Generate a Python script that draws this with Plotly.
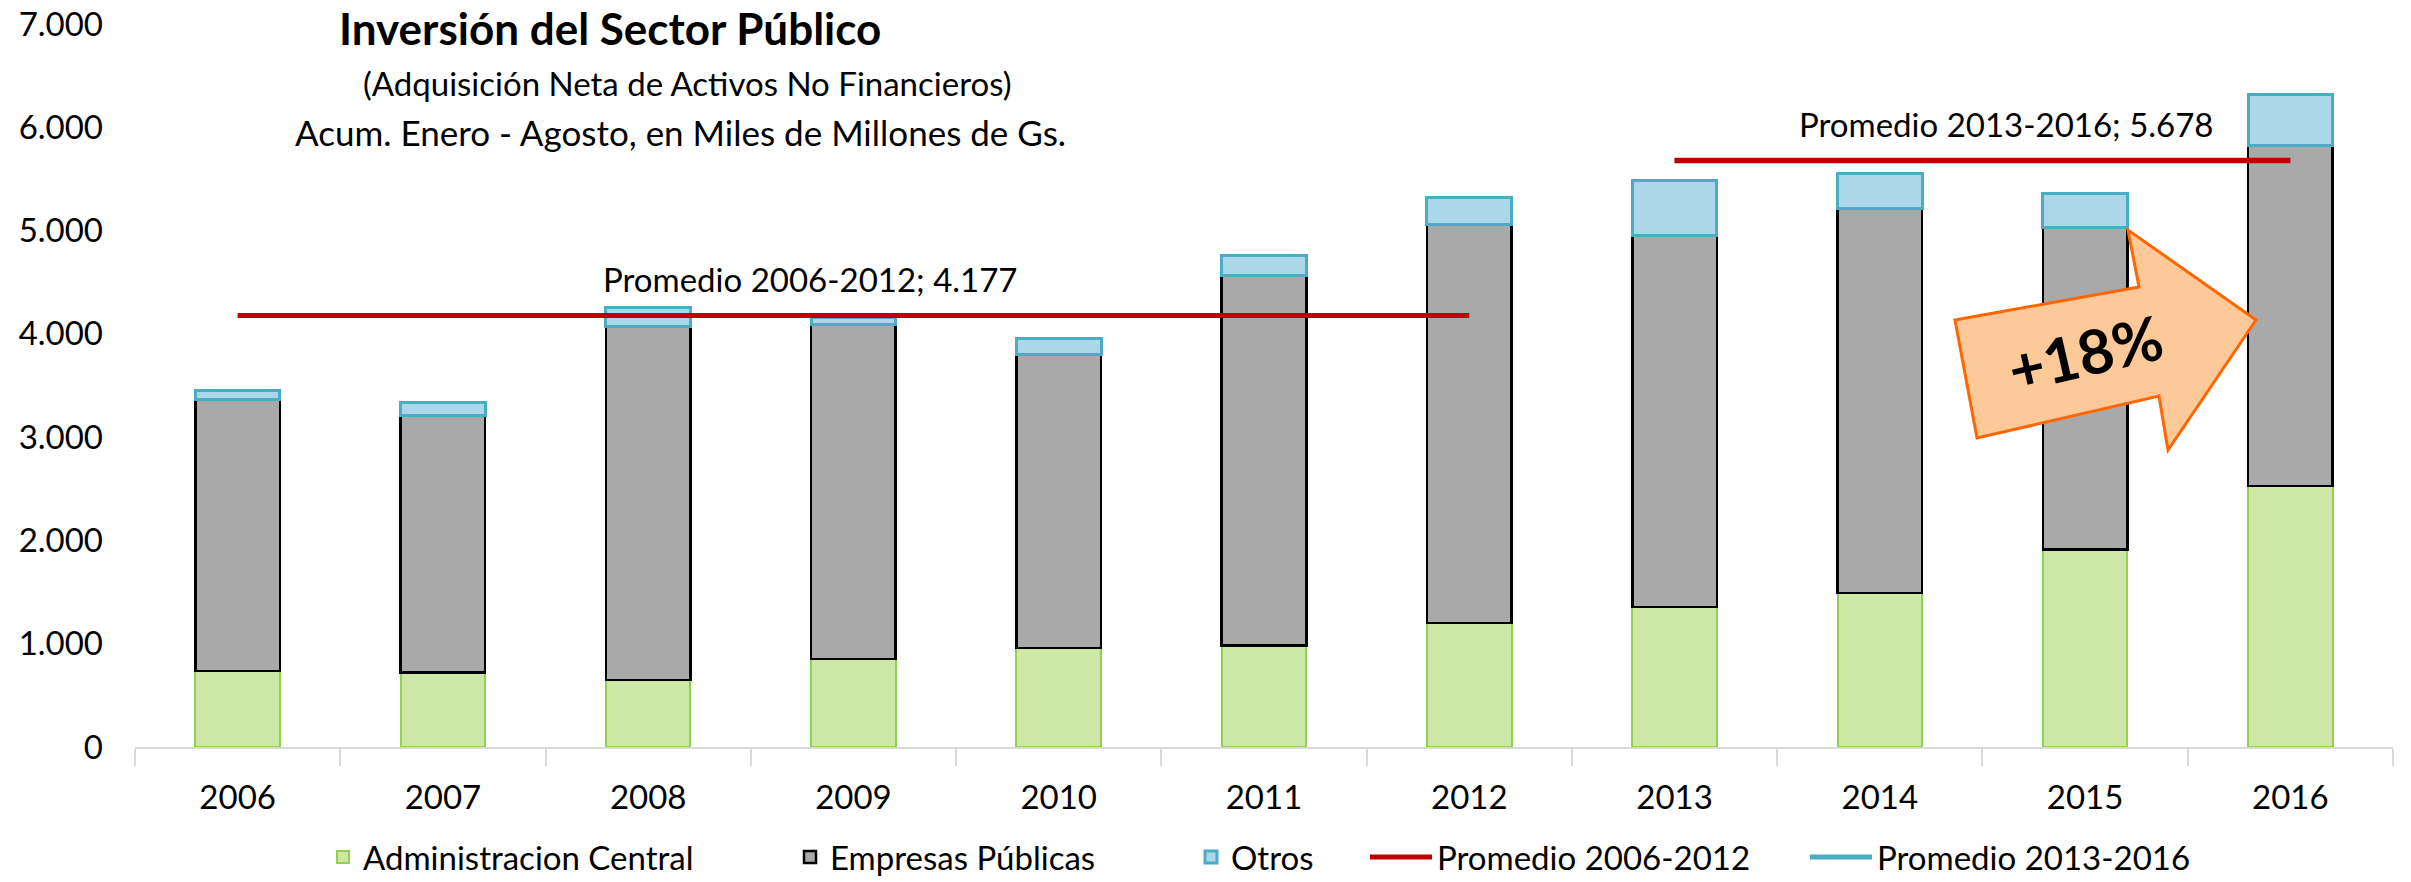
import plotly.graph_objects as go

# ---------------- data ----------------
years = ["2006", "2007", "2008", "2009", "2010", "2011", "2012", "2013", "2014", "2015", "2016"]
adm_central = [737, 721, 648, 854, 959, 981, 1200, 1356, 1489, 1913, 2526]
empresas_publicas = [2627, 2490, 3423, 3233, 2841, 3584, 3861, 3601, 3728, 3119, 3301]
otros = [92, 122, 181, 73, 158, 193, 263, 526, 334, 331, 487]
prom_2006_2012 = [4177, 4177, 4177, 4177, 4177, 4177, 4177, None, None, None, None]
prom_2013_2016 = [None, None, None, None, None, None, None, 5678, 5678, 5678, 5678]
y_ticks = [0, 1000, 2000, 3000, 4000, 5000, 6000, 7000]

# ---------------- geometry helpers (page pixels -> paper / container) ----------------
W, H = 2411, 882
PL, PR, PT, PB = 135, 2393, 24, 747  # plot area in pixels


def px_x(x):
    return (x - PL) / (PR - PL)


def px_y(y):
    return (PB - y) / (PB - PT)


def cx(x):
    return x / W


def cy(y):
    return 1 - y / H


FONT = "Lato"
FS = 33

fig = go.Figure()

fig.add_trace(go.Bar(
    x=years, y=adm_central, name="Administracion Central",
    marker=dict(color="#cde8a6", line=dict(color="#92d050", width=2)),
    legend="legend",
))
fig.add_trace(go.Bar(
    x=years, y=empresas_publicas, name="Empresas Públicas",
    marker=dict(color="#a9a9a9", line=dict(color="#000000", width=2.5)),
    legend="legend2",
))
fig.add_trace(go.Bar(
    x=years, y=otros, name="Otros",
    marker=dict(color="#acd7e8", line=dict(color="#4bacc6", width=3)),
    legend="legend3",
))
fig.add_trace(go.Scatter(
    x=years, y=prom_2006_2012, name="Promedio 2006-2012", mode="lines",
    line=dict(color="#c00000", width=5), legend="legend4",
))
# legend entry (blue) for second average, covered on chart by the red line drawn on top
fig.add_trace(go.Scatter(
    x=years, y=prom_2013_2016, name="Promedio 2013-2016", mode="lines",
    line=dict(color="#4bacc6", width=5), legend="legend5",
))
fig.add_trace(go.Scatter(
    x=years, y=prom_2013_2016, name="Promedio 2013-2016", mode="lines",
    line=dict(color="#c00000", width=5.5), showlegend=False,
))


def fmt(v):
    return f"{v:,}".replace(",", ".")


# ---------------- annotations ----------------
ann = []
ann.append(dict(text="<b>Inversión del Sector Público</b>", x=px_x(610), y=px_y(28),
                xref="paper", yref="paper", showarrow=False, xanchor="center", yanchor="middle",
                height=46, valign="middle",
                font=dict(family=FONT, size=44, color="#000")))
ann.append(dict(text="(Adquisición Neta de Activos No Financieros)", x=px_x(687), y=px_y(83),
                xref="paper", yref="paper", showarrow=False, xanchor="center", yanchor="middle",
                font=dict(family=FONT, size=33, color="#000")))
ann.append(dict(text="Acum. Enero - Agosto, en Miles de Millones de Gs.", x=px_x(680), y=px_y(132),
                xref="paper", yref="paper", showarrow=False, xanchor="center", yanchor="middle",
                font=dict(family=FONT, size=35, color="#000")))
# data labels of the average lines (x given as category index)
i1, i2 = 3, 8
ann.append(dict(text="Promedio 2006-2012; " + fmt(prom_2006_2012[i1]),
                x=i1, y=prom_2006_2012[i1], xref="x", yref="y", showarrow=False,
                xanchor="center", yanchor="middle", xshift=-43, yshift=37,
                font=dict(family=FONT, size=FS, color="#000")))
ann.append(dict(text="Promedio 2013-2016; " + fmt(prom_2013_2016[i2]),
                x=i2, y=prom_2013_2016[i2], xref="x", yref="y", showarrow=False,
                xanchor="center", yanchor="middle", xshift=126, yshift=37,
                font=dict(family=FONT, size=FS, color="#000")))
# growth arrow label
ann.append(dict(text="<b>+18%</b>", x=px_x(2085), y=px_y(352), xref="paper", yref="paper",
                showarrow=False, xanchor="center", yanchor="middle", textangle=-13,
                font=dict(family=FONT, size=61, color="#000")))

# ---------------- arrow shape ----------------
arrow_px = [(1955, 320), (2139, 287), (2128, 230), (2256, 320), (2168, 450), (2159, 396), (1977, 438)]
path = "M " + " L ".join(f"{px_x(x):.5f},{px_y(y):.5f}" for x, y in arrow_px) + " Z"
shapes = [dict(type="path", path=path, xref="paper", yref="paper",
               fillcolor="#fdc998", line=dict(color="#ff6600", width=3), layer="above")]

legend_common = dict(orientation="h", yanchor="middle", xanchor="left",
                     xref="container", yref="container", y=cy(857),
                     bgcolor="rgba(0,0,0,0)", borderwidth=0,
                     font=dict(family=FONT, size=FS, color="#000"))

fig.update_layout(
    width=W, height=H,
    margin=dict(l=PL, r=W - PR, t=PT, b=H - PB, pad=0, autoexpand=False),
    paper_bgcolor="white", plot_bgcolor="white",
    barmode="stack", bargap=0.588,
    separators=",.",
    font=dict(family=FONT, size=FS, color="#000"),
    xaxis=dict(type="category", showgrid=False, showline=True, linecolor="#d9d9d9", linewidth=2,
               ticks="outside", tickson="boundaries", ticklen=17, tickcolor="#d9d9d9", tickwidth=2,
               tickfont=dict(family=FONT, size=FS, color="#000"), ticklabelstandoff=20,
               range=[-0.5, 10.5], zeroline=False),
    yaxis=dict(range=[0, 7000], tickvals=y_ticks, tickformat=",d", showgrid=False, zeroline=False,
               showline=False, ticks="", tickfont=dict(family=FONT, size=FS, color="#000"),
               ticklabelstandoff=31, ticklabeloverflow="allow"),
    annotations=ann,
    shapes=shapes,
    legend=dict(legend_common, x=cx(363 - 40)),
    legend2=dict(legend_common, x=cx(830 - 40)),
    legend3=dict(legend_common, x=cx(1231 - 40)),
    legend4=dict(legend_common, x=cx(1436 - 71), itemwidth=62),
    legend5=dict(legend_common, x=cx(1876 - 71), itemwidth=62),
)

fig.write_html("out.html", config={"displayModeBar": False},
               post_script="document.body.style.margin='0';")
